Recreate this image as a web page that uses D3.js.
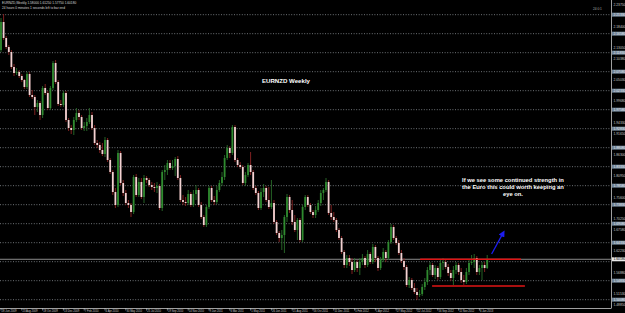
<!DOCTYPE html>
<html><head><meta charset="utf-8">
<script src="https://cdn.jsdelivr.net/npm/d3@7"></script>
<style>html,body{margin:0;padding:0;background:#000;overflow:hidden}svg{display:block}</style>
</head><body><svg id="c" width="625" height="313"></svg>
<script>
// Weekly EURNZD candles, 28 Jun 2009 .. Jan 2013 (one entry per week)
const open=[2.125,2.195,2.155,2.1325,2.12,2.0825,2.0675,2.07,2.06,2.05,
2.0325,2.065,2.0125,2.0075,1.9825,1.9925,1.9625,2.03,2.0175,1.98,
2.03,2.0925,2.045,1.99,1.9875,2.0175,1.95,1.93,1.925,1.95,
1.9675,1.9575,1.93,1.935,1.945,1.9625,1.93,1.8925,1.8875,1.875,
1.865,1.9,1.85,1.82,1.77,1.7375,1.8675,1.7925,1.7675,1.7425,
1.7375,1.72,1.8075,1.7625,1.795,1.7575,1.805,1.80,1.7875,1.7825,
1.78,1.785,1.73,1.82,1.825,1.8425,1.83,1.835,1.8525,1.805,
1.75,1.745,1.7425,1.765,1.7375,1.765,1.775,1.7375,1.7075,1.6875,
1.7325,1.78,1.75,1.745,1.775,1.7925,1.8075,1.855,1.88,1.8675,
1.9325,1.85,1.8375,1.8325,1.7925,1.8125,1.8375,1.82,1.78,1.7675,
1.73,1.77,1.78,1.75,1.7325,1.7425,1.695,1.6675,1.655,1.6625,
1.7075,1.7575,1.725,1.695,1.675,1.70,1.65,1.7325,1.7575,1.7375,
1.72,1.7125,1.725,1.7425,1.7675,1.775,1.795,1.7175,1.7075,1.70,
1.675,1.655,1.62,1.5875,1.605,1.595,1.575,1.595,1.58,1.595,
1.605,1.5875,1.615,1.595,1.6325,1.605,1.58,1.60,1.62,1.605,
1.645,1.6825,1.655,1.6425,1.6175,1.5975,1.5825,1.5375,1.55,1.53,
1.52,1.5125,1.515,1.5325,1.545,1.575,1.5875,1.5625,1.58,1.5575,
1.5925,1.595,1.5825,1.5675,1.555,1.575,1.5875,1.57,1.55,1.545,
1.57,1.5925,1.595,1.605,1.57,1.58,1.5875,1.58];
const high=[2.205,2.215,2.16,2.1375,2.125,2.09,2.08,2.075,2.065,2.0525,
2.07,2.07,2.025,2.0125,2.0,1.9975,2.035,2.04,2.0225,2.035,
2.0975,2.10,2.05,2.0,2.0225,2.0225,1.955,1.9375,1.9575,1.98,
1.975,1.9625,1.945,1.955,1.98,1.97,1.9375,1.90,1.895,1.8925,
1.9075,1.905,1.855,1.825,1.78,1.875,1.8725,1.80,1.775,1.75,
1.7425,1.8125,1.815,1.805,1.805,1.8125,1.81,1.805,1.795,1.7925,
1.795,1.79,1.825,1.8375,1.85,1.85,1.85,1.8575,1.86,1.8125,
1.7625,1.7575,1.775,1.77,1.775,1.7875,1.78,1.745,1.7125,1.7375,
1.785,1.785,1.76,1.785,1.80,1.82,1.8625,1.8875,1.885,1.9375,
1.9375,1.855,1.845,1.8375,1.82,1.8425,1.87,1.825,1.785,1.7725,
1.78,1.79,1.785,1.7825,1.80,1.75,1.70,1.6725,1.675,1.7125,
1.765,1.7625,1.75,1.7125,1.705,1.705,1.7375,1.7625,1.7625,1.7425,
1.725,1.735,1.75,1.775,1.78,1.805,1.80,1.7375,1.72,1.705,
1.68,1.66,1.625,1.6125,1.6125,1.605,1.605,1.60,1.605,1.615,
1.61,1.625,1.62,1.64,1.6375,1.61,1.6075,1.63,1.625,1.65,
1.69,1.6875,1.66,1.65,1.625,1.605,1.5875,1.5575,1.555,1.5425,
1.53,1.525,1.54,1.555,1.5825,1.595,1.5925,1.5875,1.585,1.60,
1.605,1.60,1.59,1.575,1.585,1.595,1.5925,1.58,1.5625,1.58,
1.60,1.6125,1.615,1.61,1.5875,1.595,1.595,1.6125];
const low=[2.12,2.15,2.1275,2.1125,2.0775,2.06,2.0625,2.055,2.045,2.0275,
2.0275,2.0075,2.0025,1.9625,1.97,1.95,1.955,2.0125,1.975,1.975,
2.025,2.04,1.985,1.9825,1.9825,1.945,1.9225,1.915,1.9125,1.945,
1.95,1.925,1.9225,1.9225,1.94,1.925,1.8875,1.88,1.8675,1.86,
1.8575,1.845,1.815,1.7625,1.73,1.7325,1.7875,1.76,1.7375,1.73,
1.7075,1.715,1.7575,1.7575,1.7525,1.7425,1.7925,1.7825,1.775,1.77,
1.7675,1.725,1.7225,1.80,1.8125,1.825,1.825,1.81,1.80,1.745,
1.7375,1.735,1.7375,1.7325,1.7325,1.75,1.7325,1.7025,1.6825,1.6825,
1.7275,1.745,1.7375,1.74,1.77,1.785,1.80,1.85,1.855,1.8625,
1.845,1.8325,1.8275,1.7875,1.785,1.8075,1.8125,1.775,1.7625,1.725,
1.725,1.7575,1.745,1.7275,1.7275,1.69,1.6625,1.645,1.625,1.6175,
1.695,1.7175,1.6875,1.67,1.65,1.645,1.645,1.725,1.7325,1.715,
1.705,1.705,1.72,1.735,1.75,1.77,1.7125,1.70,1.695,1.67,
1.65,1.615,1.58,1.58,1.585,1.565,1.57,1.57,1.5625,1.5875,
1.58,1.5825,1.59,1.59,1.595,1.5725,1.575,1.595,1.595,1.60,
1.64,1.65,1.6375,1.6125,1.5925,1.575,1.5325,1.53,1.525,1.515,
1.50,1.5075,1.51,1.525,1.5375,1.5625,1.5575,1.5525,1.55,1.5525,
1.575,1.5775,1.56,1.5475,1.5375,1.565,1.5625,1.5425,1.5375,1.54,
1.5625,1.5875,1.58,1.5625,1.5625,1.55,1.57,1.5775];
const close=[2.195,2.155,2.1325,2.12,2.0825,2.0675,2.07,2.06,2.05,2.0325,
2.065,2.0125,2.0075,1.9825,1.9925,1.9625,2.03,2.0175,1.98,2.03,
2.0925,2.045,1.99,1.9875,2.0175,1.95,1.93,1.925,1.95,1.9675,
1.9575,1.93,1.935,1.945,1.9625,1.93,1.8925,1.8875,1.875,1.865,
1.9,1.85,1.82,1.77,1.7375,1.8675,1.7925,1.7675,1.7425,1.7375,
1.72,1.8075,1.7625,1.795,1.7575,1.805,1.80,1.7875,1.7825,1.78,
1.785,1.73,1.82,1.825,1.8425,1.83,1.835,1.8525,1.805,1.75,
1.745,1.7425,1.765,1.7375,1.765,1.775,1.7375,1.7075,1.6875,1.7325,
1.78,1.75,1.745,1.775,1.7925,1.8075,1.855,1.88,1.8675,1.9325,
1.85,1.8375,1.8325,1.7925,1.8125,1.8375,1.82,1.78,1.7675,1.73,
1.77,1.78,1.75,1.7325,1.7425,1.695,1.6675,1.655,1.6625,1.7075,
1.7575,1.725,1.695,1.675,1.70,1.65,1.7325,1.7575,1.7375,1.72,
1.7125,1.725,1.7425,1.7675,1.775,1.795,1.7175,1.7075,1.70,1.675,
1.655,1.62,1.5875,1.605,1.595,1.575,1.595,1.58,1.595,1.605,
1.5875,1.615,1.595,1.6325,1.605,1.58,1.60,1.62,1.605,1.645,
1.6825,1.655,1.6425,1.6175,1.5975,1.5825,1.5375,1.55,1.53,1.52,
1.5125,1.515,1.5325,1.545,1.575,1.5875,1.5625,1.58,1.5575,1.5925,
1.595,1.5825,1.5675,1.555,1.575,1.5875,1.57,1.55,1.545,1.57,
1.5925,1.595,1.605,1.57,1.58,1.5875,1.58,1.6018];

const dateLabels=["28 Jun 2009","23 Aug 2009","18 Oct 2009","13 Dec 2009","7 Feb 2010","4 Apr 2010","30 May 2010","25 Jul 2010","19 Sep 2010","14 Nov 2010","9 Jan 2011","6 Mar 2011","1 May 2011","26 Jun 2011","21 Aug 2011","16 Oct 2011","11 Dec 2011","5 Feb 2012","1 Apr 2012","27 May 2012","22 Jul 2012","16 Sep 2012","11 Nov 2012","6 Jan 2013"];
const weeksPerLabel=8;
const gridPrices=[2.2133,2.1658,2.1183,2.0708,2.0233,1.9758,1.9283,1.8808,1.8333,1.7858,1.7383,1.6908,1.6433,1.5958,1.5483,1.5008];
const priceLabels=[2.2375,2.2108,2.1840,2.1573,2.1305,2.1038,2.0770,2.0503,2.0235,1.9968,1.9700,1.9433,1.9165,1.8898,1.8630,1.8363,1.8095,1.7828,1.7560,1.7293,1.7025,1.6758,1.6490,1.6223,1.5955,1.5688,1.5420,1.5153,1.4885];
const resistance={from:161.2,to:200,price:1.6020};
const support={from:165.8,to:201.5,price:1.5350};
const arrowPts=[{i:188.7,p:1.6150},{i:193.2,p:1.6683}];
const titleText="EURNZD Weekly";
const noteLines=["If we see some continued strength in","the Euro this could worth keeping an","eye on."];

const W=625,H=313, plotR=611, plotB=308;
const svg=d3.select("#c");
svg.append("rect").attr("width",W).attr("height",H).attr("fill","#000");

const x=d3.scaleLinear().domain([0,234]).range([1,1+234*2.6]);
const y=d3.scaleLinear().domain([1.48,2.25]).range([plotB,0]);

// grid
svg.append("g").selectAll("line").data(gridPrices).join("line")
  .attr("x1",0).attr("x2",plotR).attr("y1",d=>y(d)).attr("y2",d=>y(d))
  .attr("stroke","#8a8f96").attr("stroke-width",0.8).attr("stroke-dasharray","1,1.6");

// current price line
const last=close[close.length-1];
svg.append("line").attr("x1",0).attr("x2",plotR).attr("y1",y(last)).attr("y2",y(last))
  .attr("stroke","#9a9a9a").attr("stroke-width",0.9);

// candles
const data=close.map((c,i)=>({i,o:open[i],h:high[i],l:low[i],c}));
const g=svg.append("g");
g.selectAll("line.w").data(data).join("line").attr("class","w")
  .attr("x1",d=>x(d.i)).attr("x2",d=>x(d.i))
  .attr("y1",d=>y(d.h)).attr("y2",d=>y(d.l))
  .attr("stroke",d=>d.c>=d.o?"#2a6e2a":"#8c2424").attr("stroke-width",0.9);
g.selectAll("rect.b").data(data).join("rect").attr("class","b")
  .attr("x",d=>x(d.i)-0.9).attr("width",1.8)
  .attr("y",d=>y(Math.max(d.o,d.c)))
  .attr("height",d=>Math.max(0.8,Math.abs(y(d.o)-y(d.c))))
  .attr("fill",d=>d.c>=d.o?"#2f8a2f":"#f2d2d2");

// red horizontal lines
[resistance,support].forEach(r=>{
  svg.append("line").attr("x1",x(r.from)).attr("x2",x(r.to)).attr("y1",y(r.price)).attr("y2",y(r.price))
    .attr("stroke","#e01414").attr("stroke-width",1.4);
});

// arrow
const ax1=x(arrowPts[0].i),ay1=y(arrowPts[0].p),ax2=x(arrowPts[1].i),ay2=y(arrowPts[1].p);
svg.append("defs").append("marker").attr("id","ah").attr("viewBox","0 0 10 10").attr("refX",6).attr("refY",5)
  .attr("markerWidth",5).attr("markerHeight",5).attr("orient","auto")
  .append("path").attr("d","M0,0L10,5L0,10z").attr("fill","#1c1cf0");
svg.append("line").attr("x1",ax1).attr("y1",ay1).attr("x2",ax2).attr("y2",ay2)
  .attr("stroke","#1c1cf0").attr("stroke-width",1.3).attr("marker-end","url(#ah)");

// texts
svg.append("text").attr("x",286).attr("y",83).attr("text-anchor","middle")
  .attr("font-family","Liberation Sans, Arial, sans-serif").attr("font-weight","bold")
  .attr("font-size",6.1).attr("fill","#fff").text(titleText);
svg.append("g").selectAll("text").data(noteLines).join("text")
  .attr("x",513).attr("y",(d,k)=>181.5+k*7).attr("text-anchor","middle")
  .attr("font-family","Liberation Sans, Arial, sans-serif").attr("font-weight","bold")
  .attr("font-size",5.8).attr("fill","#fff").text(d=>d);

// header
svg.append("text").attr("x",2).attr("y",4).attr("font-family","Liberation Sans, Arial, sans-serif")
  .attr("font-size",3.2).attr("fill","#d8d8d8")
  .text("EURNZD,Weekly  "+[open[187],high[187],low[187],close[187]].map(v=>v.toFixed(5)).join(" "));
svg.append("text").attr("x",2).attr("y",8.5).attr("font-family","Liberation Sans, Arial, sans-serif")
  .attr("font-size",3.2).attr("fill","#d8d8d8").text("24 hours 0 minutes 1 seconds left to bar end");
svg.append("text").attr("x",593).attr("y",10).attr("font-family","Liberation Sans, Arial, sans-serif")
  .attr("font-size",3.2).attr("fill","#aaa").text("24:0:1");

// right axis
svg.append("line").attr("x1",plotR+0.5).attr("x2",plotR+0.5).attr("y1",0).attr("y2",plotB)
  .attr("stroke","#c8c8c8").attr("stroke-width",0.8);
const ra=svg.append("g").attr("font-family","Liberation Sans, Arial, sans-serif").attr("font-size",3.3);
const boxed=gridPrices.concat([last]);
const plain=priceLabels.filter(p=>boxed.every(b=>Math.abs(y(p)-y(b))>4.2));
ra.selectAll("text.p").data(plain).join("text").attr("class","p")
  .attr("x",613.5).attr("y",d=>y(d)+1.2).attr("fill","#c8c8c8").text(d=>d.toFixed(5));
const gridBoxed=gridPrices.filter(p=>Math.abs(y(p)-y(last))>4.2);
const gb=ra.selectAll("g.gb").data(gridBoxed).join("g").attr("class","gb");
gb.append("rect").attr("x",612).attr("width",13).attr("y",d=>y(d)-2).attr("height",4).attr("fill","#6f8193");
gb.append("text").attr("x",613.5).attr("y",d=>y(d)+1.2).attr("fill","#e8eef4").text(d=>d.toFixed(5));
ra.append("rect").attr("x",612).attr("width",13).attr("y",y(last)-2).attr("height",4).attr("fill","#e8e8e8");
ra.append("text").attr("x",613.5).attr("y",y(last)+1.2).attr("fill","#000").text(last.toFixed(5));

// bottom axis
svg.append("line").attr("x1",0).attr("x2",plotR+0.5).attr("y1",plotB+0.5).attr("y2",plotB+0.5)
  .attr("stroke","#c8c8c8").attr("stroke-width",0.8);
const ba=svg.append("g").attr("font-family","Liberation Sans, Arial, sans-serif").attr("font-size",2.7);
ba.selectAll("line").data(dateLabels).join("line")
  .attr("x1",(d,k)=>x(k*weeksPerLabel)).attr("x2",(d,k)=>x(k*weeksPerLabel))
  .attr("y1",plotB).attr("y2",plotB+2.5).attr("stroke","#c8c8c8").attr("stroke-width",0.6);
ba.selectAll("text").data(dateLabels).join("text")
  .attr("x",(d,k)=>x(k*weeksPerLabel)+0.6).attr("y",312.3).attr("fill","#c8c8c8").text(d=>d);
</script></body></html>
